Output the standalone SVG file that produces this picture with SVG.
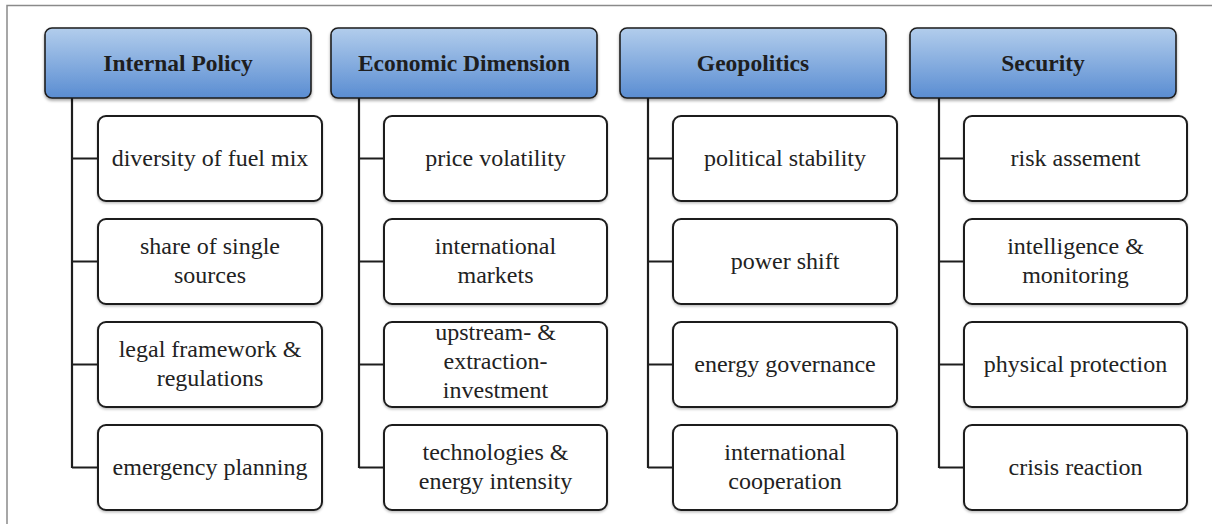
<svg xmlns="http://www.w3.org/2000/svg" width="1212" height="524" viewBox="0 0 1212 524">
<style>
.hd{fill:url(#hg);stroke:#1e1e1e;stroke-width:1.6;filter:url(#sh)}
.ch{fill:#fff;stroke:#1e1e1e;stroke-width:2;filter:url(#sh2)}
.ht{font-family:"Liberation Serif",serif;font-weight:bold;font-size:23.5px;fill:#1e1e1e;text-anchor:middle}
.ct{font-family:"Liberation Serif",serif;font-size:24px;fill:#222;text-anchor:middle}
.cn{fill:none;stroke:#1e1e1e;stroke-width:2.2}
</style>
<defs>
<linearGradient id="hg" x1="0" y1="0" x2="0" y2="1">
<stop offset="0" stop-color="#b2cdec"/>
<stop offset="1" stop-color="#5a8dd2"/>
</linearGradient>
<filter id="sh" x="-5%" y="-10%" width="110%" height="130%">
<feDropShadow dx="0" dy="2" stdDeviation="1.5" flood-color="#000" flood-opacity="0.35"/>
</filter>
<filter id="sh2" x="-5%" y="-10%" width="110%" height="130%">
<feDropShadow dx="0" dy="1.5" stdDeviation="0.8" flood-color="#000" flood-opacity="0.25"/>
</filter>
</defs>
<rect width="1212" height="524" fill="#fff"/>
<path d="M7 524V5.5H1212" fill="none" stroke="#8a8a8a" stroke-width="1.5"/>
<g id="connectors">
<path class="cn" d="M72 98V468M72 158.5H98M72 261.5H98M72 364.5H98M72 467.5H98"/>
<path class="cn" d="M359 98V468M359 158.5H384M359 261.5H384M359 364.5H384M359 467.5H384"/>
<path class="cn" d="M648 98V468M648 158.5H673M648 261.5H673M648 364.5H673M648 467.5H673"/>
<path class="cn" d="M939 98V468M939 158.5H964M939 261.5H964M939 364.5H964M939 467.5H964"/>
</g>
<g id="h1"><rect class="hd" x="45" y="28" width="266" height="70" rx="7"/><text class="ht" x="178" y="71">Internal Policy</text></g>
<g id="h2"><rect class="hd" x="331" y="28" width="266" height="70" rx="7"/><text class="ht" x="464" y="71">Economic Dimension</text></g>
<g id="h3"><rect class="hd" x="620" y="28" width="266" height="70" rx="7"/><text class="ht" x="753" y="71">Geopolitics</text></g>
<g id="h4"><rect class="hd" x="910" y="28" width="266" height="70" rx="7"/><text class="ht" x="1043" y="71">Security</text></g>

<g id="c11"><rect class="ch" x="98" y="116" width="224" height="85" rx="8"/><text class="ct" x="210" y="166">diversity of fuel mix</text></g>
<g id="c12"><rect class="ch" x="98" y="219" width="224" height="85" rx="8"/><text class="ct" x="210" y="254">share of single</text><text class="ct" x="210" y="283">sources</text></g>
<g id="c13"><rect class="ch" x="98" y="322" width="224" height="85" rx="8"/><text class="ct" x="210" y="357">legal framework &amp;</text><text class="ct" x="210" y="386">regulations</text></g>
<g id="c14"><rect class="ch" x="98" y="425" width="224" height="85" rx="8"/><text class="ct" x="210" y="475">emergency planning</text></g>

<g id="c21"><rect class="ch" x="384" y="116" width="223" height="85" rx="8"/><text class="ct" x="495.5" y="166">price volatility</text></g>
<g id="c22"><rect class="ch" x="384" y="219" width="223" height="85" rx="8"/><text class="ct" x="495.5" y="254">international</text><text class="ct" x="495.5" y="283">markets</text></g>
<g id="c23"><rect class="ch" x="384" y="322" width="223" height="85" rx="8"/><text class="ct" x="495.5" y="340">upstream- &amp;</text><text class="ct" x="495.5" y="369">extraction-</text><text class="ct" x="495.5" y="398">investment</text></g>
<g id="c24"><rect class="ch" x="384" y="425" width="223" height="85" rx="8"/><text class="ct" x="495.5" y="460">technologies &amp;</text><text class="ct" x="495.5" y="489">energy intensity</text></g>

<g id="c31"><rect class="ch" x="673" y="116" width="224" height="85" rx="8"/><text class="ct" x="785" y="166">political stability</text></g>
<g id="c32"><rect class="ch" x="673" y="219" width="224" height="85" rx="8"/><text class="ct" x="785" y="269">power shift</text></g>
<g id="c33"><rect class="ch" x="673" y="322" width="224" height="85" rx="8"/><text class="ct" x="785" y="372">energy governance</text></g>
<g id="c34"><rect class="ch" x="673" y="425" width="224" height="85" rx="8"/><text class="ct" x="785" y="460">international</text><text class="ct" x="785" y="489">cooperation</text></g>

<g id="c41"><rect class="ch" x="964" y="116" width="223" height="85" rx="8"/><text class="ct" x="1075.5" y="166">risk assement</text></g>
<g id="c42"><rect class="ch" x="964" y="219" width="223" height="85" rx="8"/><text class="ct" x="1075.5" y="254">intelligence &amp;</text><text class="ct" x="1075.5" y="283">monitoring</text></g>
<g id="c43"><rect class="ch" x="964" y="322" width="223" height="85" rx="8"/><text class="ct" x="1075.5" y="372">physical protection</text></g>
<g id="c44"><rect class="ch" x="964" y="425" width="223" height="85" rx="8"/><text class="ct" x="1075.5" y="475">crisis reaction</text></g>
</svg>
